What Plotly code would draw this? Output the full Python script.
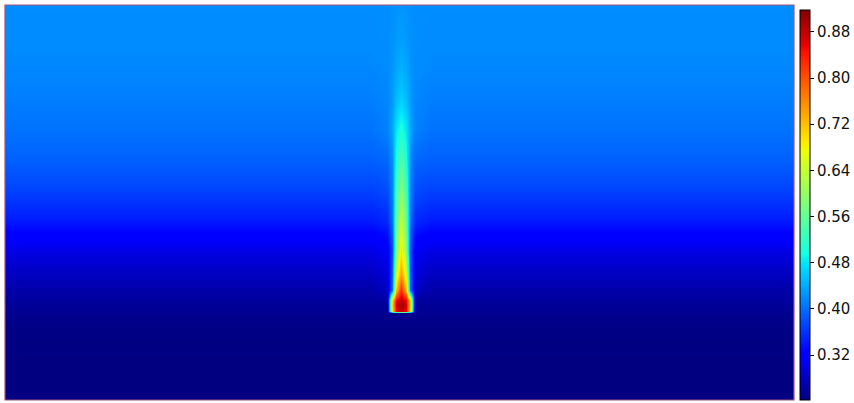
import numpy as np
import plotly.graph_objects as go

# ---- data ----
# column positions (screen-like units across the field) and row positions (top -> bottom)
x_cols = [5, 371, 387, 392, 396, 401, 406, 410, 415, 431, 794]
y_rows = [5, 40, 70, 100, 130, 160, 190, 220, 235, 250, 275, 290, 300, 305, 311, 313, 330, 350, 400]

# background (ambient) value per row
background = [0.420, 0.419, 0.416, 0.410, 0.402, 0.390, 0.370, 0.344, 0.322, 0.302,
              0.279, 0.266, 0.259, 0.256, 0.252, 0.251, 0.245, 0.243, 0.242]
# plume centreline value per row (None = no plume)
plume_peak = [0.425, 0.432, 0.445, 0.465, 0.505, 0.545, 0.590, 0.640, 0.665, 0.690,
              0.750, 0.830, 0.880, 0.900, 0.880, None, None, None, None]
plume_shape = ["wide"] * 5 + ["narrow"] * 5 + ["base"] * 2 + ["box"] * 3 + ["none"] * 4

# cross-section weights at each column
cross_sections = {
    "wide":   [0, 0, 0.10, 0.35, 0.75, 1.0, 0.75, 0.35, 0.10, 0, 0],
    "narrow": [0, 0, 0.03, 0.20, 0.72, 1.0, 0.72, 0.20, 0.03, 0, 0],
    "base":   [0, 0, 0.03, 0.25, 0.80, 1.0, 0.80, 0.25, 0.03, 0, 0],
    "box":    [0, 0, 0.00, 0.70, 0.95, 1.0, 0.95, 0.70, 0.00, 0, 0],
    "none":   [0] * 11,
}

tick_vals = [0.32, 0.40, 0.48, 0.56, 0.64, 0.72, 0.80, 0.88]
tick_text = ["0.32", "0.40", "0.48", "0.56", "0.64", "0.72", "0.80", "0.88"]
z_min, z_max = 0.242, 0.918

# ---- build the field ----
z = []
for bg, pk, shp in zip(background, plume_peak, plume_shape):
    w = cross_sections[shp]
    if pk is None:
        z.append([bg] * len(x_cols))
    else:
        z.append([bg + (pk - bg) * wi for wi in w])

# matplotlib "jet" colour scale
red = [(0, 0), (0.35, 0), (0.66, 1), (0.89, 1), (1, 0.5)]
green = [(0, 0), (0.125, 0), (0.375, 1), (0.64, 1), (0.91, 0), (1, 0)]
blue = [(0, 0.5), (0.11, 1), (0.34, 1), (0.65, 0), (1, 0)]
stops = sorted(set([p for p, _ in red] + [p for p, _ in green] + [p for p, _ in blue]))
def ch(seg, t):
    return float(np.interp(t, [p for p, _ in seg], [v for _, v in seg]))
jet = [[t, "rgb(%d,%d,%d)" % (round(255 * ch(red, t)), round(255 * ch(green, t)), round(255 * ch(blue, t)))]
       for t in stops]

fig = go.Figure()
fig.add_trace(go.Heatmap(
    x=x_cols, y=y_rows, z=z,
    zmin=z_min, zmax=z_max,
    colorscale=jet,
    zsmooth="best",
    colorbar=dict(
        x=1.0076, xanchor="left", xpad=0,
        y=0, yanchor="bottom", len=0.987, lenmode="fraction", ypad=0,
        thickness=10, thicknessmode="pixels",
        outlinecolor="black", outlinewidth=1,
        tickvals=tick_vals, ticktext=tick_text,
        ticks="outside", ticklen=4, tickcolor="black",
        tickfont=dict(family="DejaVu Sans", size=15, color="#111"),
    ),
))

fig.add_shape(type="rect", xref="paper", yref="paper", x0=0, x1=1, y0=0, y1=1,
              line=dict(color="rgb(165,80,120)", width=1.2))

fig.update_layout(
    width=854, height=403,
    margin=dict(l=5, r=60, t=5, b=3),
    paper_bgcolor="white", plot_bgcolor="white",
    xaxis=dict(range=[5, 794], visible=False, fixedrange=True),
    yaxis=dict(range=[400, 5], visible=False, fixedrange=True),
    showlegend=False,
)

fig.write_html("out.html")
